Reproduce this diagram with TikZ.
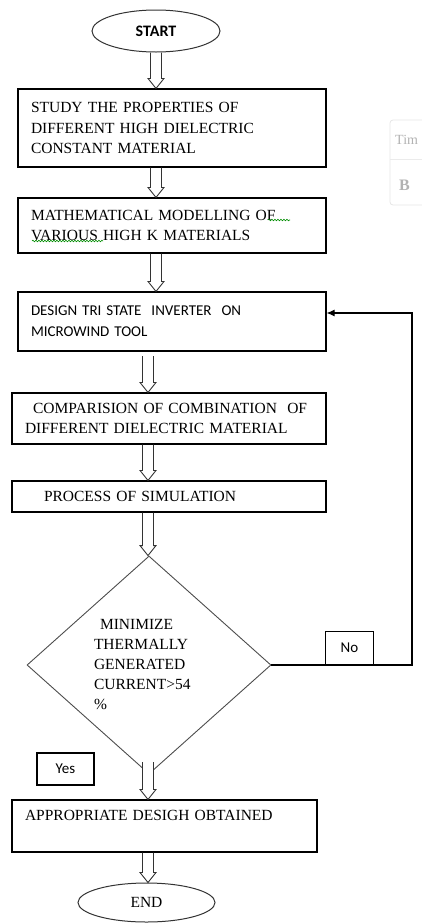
\documentclass[tikz,border=0pt]{standalone}
\usepackage{fontspec}
\setmainfont{Liberation Serif}
\newfontfamily\calibrifont{Carlito}
\usetikzlibrary{shapes.geometric,arrows.meta,calc,decorations.pathmorphing}

\newcommand\hollowarrow[3][]{%
  \draw[harrow,#1] let \p1=(#2), \p2=(#3) in
    (\x1-5.5pt,\y1) -- (\x1-5.5pt,\y2+10pt) -- (\x1-8pt,\y2+10pt) -- (\x1,\y2)
    -- (\x1+8pt,\y2+10pt) -- (\x1+5.5pt,\y2+10pt) -- (\x1+5.5pt,\y1);}

\begin{document}
\begin{tikzpicture}[x=1pt,y=-1pt,
  serif/.style={font=\fontsize{15.5}{20.5}\selectfont},
  sans/.style={font=\calibrifont\fontsize{15}{21}\selectfont},
  box/.style={draw=black, line width=1.1pt, rectangle, inner xsep=13pt, inner ysep=0pt, align=left},
  term/.style={draw=black!80, line width=1pt, ellipse, inner sep=0pt},
  harrow/.style={draw=black!80, line width=0.9pt, line join=miter},
  tag/.style={draw=black, line width=1.1pt, rectangle, inner sep=0pt, fill=white},
  flow/.style={draw=black, line width=1.1pt},
  squig/.style={draw=green!55!black, line width=0.6pt, decorate, decoration={snake, segment length=3pt, amplitude=0.8pt}},
  ghost/.style={text=black!30, inner sep=0pt, anchor=west}
]
\useasboundingbox (0,0) rectangle (422,924);

% faint artefact at the right
\draw[black!10, line width=0.8pt, rounded corners=3pt] (390,120) rectangle (440,205);
\draw[black!8, line width=0.8pt] (390,159) -- (422,159);
\node[ghost, font=\fontsize{14}{14}\selectfont] (tim) at (395,140) {Tim};
\node[ghost, font=\bfseries\fontsize{16}{16}\selectfont] (bb) at (399,185) {B};

% nodes
\node[term, minimum width=128pt, minimum height=42pt, font=\calibrifont\bfseries\fontsize{16}{18}\selectfont] (st) at (156,31) {START};

\node[box, serif, text width=282pt, minimum height=78pt] (b1) at (172,128)
  {STUDY THE PROPERTIES OF\\ DIFFERENT HIGH DIELECTRIC\\ CONSTANT MATERIAL};

\node[box, serif, text width=282pt, minimum height=55pt] (b2) at (172,225.5)
  {MATHEMATICAL MODELLING OF\\ VARIOUS HIGH K MATERIALS};

\node[box, sans, text width=282pt, minimum height=59pt] (b3) at (172,321.5)
  {DESIGN TRI STATE\ \ INVERTER\ \ ON\\ MICROWIND TOOL};

\node[box, serif, text width=288pt, minimum height=51pt] (b4) at (169,418.5)
  {\hspace*{8pt}COMPARISION OF COMBINATION\ \ OF\\ DIFFERENT DIELECTRIC MATERIAL};

\node[box, serif, text width=288pt, minimum height=31pt] (b5) at (169,496.5)
  {\hspace*{19pt}PROCESS OF SIMULATION};

\node[diamond, draw=black!70, line width=0.9pt, minimum width=244pt, minimum height=218pt,
      inner sep=0pt, text width=110pt, align=left, font=\fontsize{15.5}{20}\selectfont] (dm) at (149,665)
  {\hspace*{6pt}MINIMIZE\\ THERMALLY\\ GENERATED\\ CURRENT>54\\ \%};

\node[box, serif, text width=279pt, minimum height=52pt] (b6) at (164.5,826)
  {APPROPRIATE DESIGH OBTAINED\\ \mbox{}};

\node[term, serif, minimum width=137pt, minimum height=39pt] (en) at (146.5,902.5) {END};

\node[tag, sans, minimum width=57pt, minimum height=32pt] (yes) at (65.5,769) {Yes};

% feedback loop
\coordinate (fb) at (412,313);
\draw[flow, -{Latex[length=8pt,width=7pt]}] (dm.east) -| (fb) -- (fb -| b3.east);
\node[tag, sans, minimum width=48pt, minimum height=33pt, anchor=south] (no) at ($(dm.east)+(78,0)$) {No};

% hollow arrows
\coordinate (ax1) at (156,0);
\coordinate (ax2) at (148,0);
\coordinate (a4top) at (148,356);
\coordinate (a7top) at (148,762);
\hollowarrow{st.south -| ax1}{b1.north -| ax1}
\hollowarrow{b1.south -| ax1}{b2.north -| ax1}
\hollowarrow{b2.south -| ax1}{b3.north -| ax1}
\hollowarrow{a4top}{b4.north -| ax2}
\hollowarrow{b4.south -| ax2}{b5.north -| ax2}
\hollowarrow{b5.south -| ax2}{dm.north -| ax2}
\hollowarrow[fill=white]{a7top}{b6.north -| ax2}
\hollowarrow{b6.south -| ax2}{en.north -| ax2}

% spell-check marks
\draw[squig] (268,220) -- (290,220);
\draw[squig] (32,241) -- (103,241);
\end{tikzpicture}
\end{document}
